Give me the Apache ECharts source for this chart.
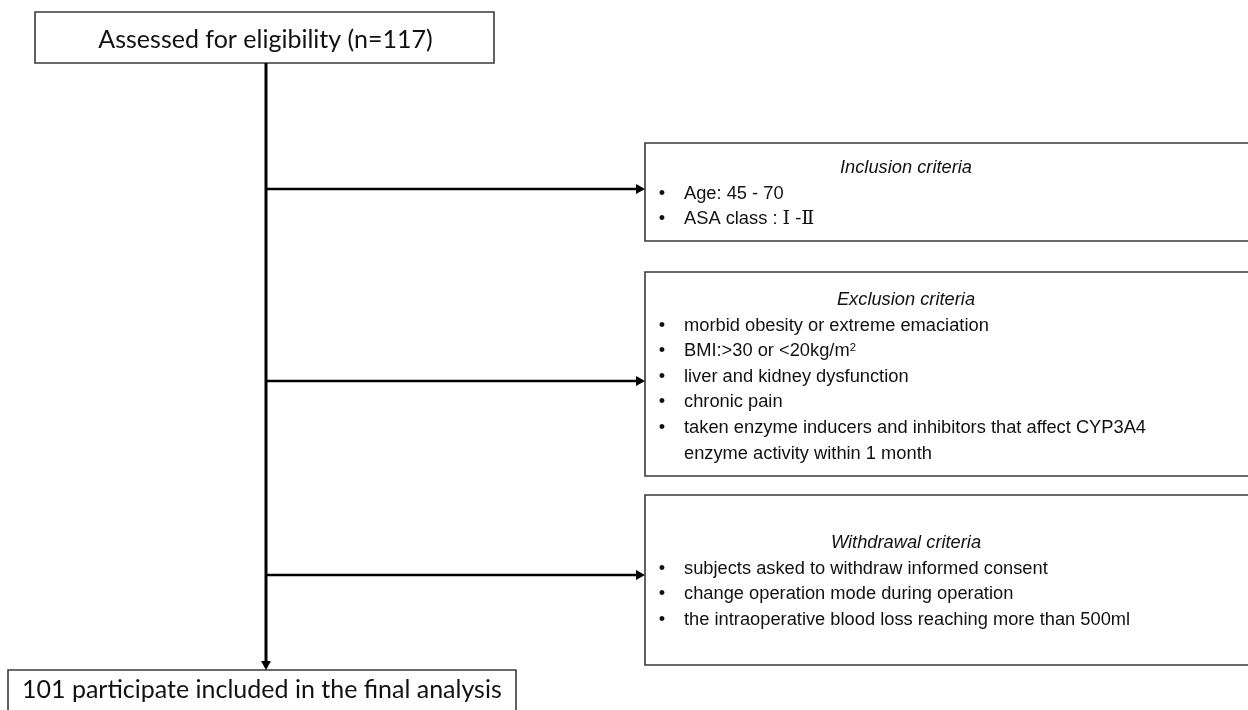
<!DOCTYPE html>
<html>
<head>
<meta charset="utf-8">
<script src="https://cdn.jsdelivr.net/npm/echarts@6/dist/echarts.min.js"></script>
<style>
html,body{margin:0;padding:0;background:#fff;}
#chart{width:1248px;height:710px;}
</style>
</head>
<body>
<div id="chart"></div>
<script>
// ---- content ----
const startLabel = 'Assessed for eligibility (n=117)';
const endLabel = '101 participate included in the final analysis';
const boxTitles = ['Inclusion criteria', 'Exclusion criteria', 'Withdrawal criteria'];
const inclusionItems = ['Age: 45 - 70', 'ASA class : {r|\u2160} -{r|\u2161}'];
const exclusionItems = [
  'morbid obesity or extreme emaciation',
  'BMI:>30 or <20kg/m{sup|2}',
  'liver and kidney dysfunction',
  'chronic pain',
  'taken enzyme inducers and inhibitors that affect CYP3A4\nenzyme activity within 1 month'
];
const withdrawalItems = [
  'subjects asked to withdraw informed consent',
  'change operation mode during operation',
  'the intraoperative blood loss reaching more than 500ml'
];

// ---- layout (diagram coordinates, px) ----
const startBox = [35, 12, 494, 63];
const endBox = [8, 670, 516, 720];
const sideBoxes = [[645, 143, 1262, 241], [645, 272, 1262, 476], [645, 495, 1262, 665]];
const sideTitleY = [168, 300, 543];
const trunkX = 266;
const branchY = [189, 381, 575];
const lineH = 25.6;
const bulletX = 662, itemX = 684, titleCX = 906;
const sideFont = 'Liberation Sans', sideSize = 18.3;
const mainFont = 'Lato', mainSize = 25;

const itemGroups = [inclusionItems, exclusionItems, withdrawalItems];

// rectangles
const rects = [startBox, endBox].concat(sideBoxes);
// text entries
const texts = [];
texts.push({x: (startBox[0] + startBox[2]) / 2 + 1, y: 40, text: startLabel, font: mainFont, size: mainSize, align: 'center', style: 'normal'});
texts.push({x: 22, y: 690, text: endLabel, font: mainFont, size: mainSize, align: 'left', style: 'normal'});
itemGroups.forEach((items, g) => {
  texts.push({x: titleCX, y: sideTitleY[g], text: boxTitles[g], font: sideFont, size: sideSize, align: 'center', style: 'italic'});
  let line = 1;
  items.forEach(it => {
    const parts = it.split('\n');
    texts.push({x: bulletX, y: sideTitleY[g] + line * lineH, text: '\u2022', font: sideFont, size: sideSize, align: 'center', style: 'normal'});
    parts.forEach(p => {
      texts.push({x: itemX, y: sideTitleY[g] + line * lineH, text: p, font: sideFont, size: sideSize, align: 'left', style: 'normal'});
      line++;
    });
  });
});

// connectors: [x0,y0,x1,y1,width]
const connectors = [[trunkX, startBox[3], trunkX, endBox[1], 3]];
branchY.forEach((y, i) => connectors.push([trunkX, y, sideBoxes[i][0], y, 2.5]));

const chart = echarts.init(document.getElementById('chart'), null, {renderer: 'canvas'});

function arrowHead(x1, y1, dx, dy, api) {
  const L = 9, W = 5;
  const tip = api.coord([x1, y1]);
  const base = [tip[0] - dx * L, tip[1] - dy * L];
  const px = -dy, py = dx;
  return {type: 'polygon', shape: {points: [tip, [base[0] + px * W, base[1] + py * W], [base[0] - px * W, base[1] - py * W]]}, style: {fill: '#000'}};
}

chart.setOption({
  animation: false,
  grid: {left: 0, right: 0, top: 0, bottom: 0},
  xAxis: {type: 'value', min: 0, max: 1248, show: false},
  yAxis: {type: 'value', min: 0, max: 710, inverse: true, show: false},
  series: [
    {
      type: 'custom', clip: false,
      data: rects.map(r => [r[0], r[1], r[2], r[3]]),
      renderItem: (params, api) => {
        const p0 = api.coord([api.value(0), api.value(1)]);
        const p1 = api.coord([api.value(2), api.value(3)]);
        return {type: 'rect', shape: {x: p0[0], y: p0[1], width: p1[0] - p0[0], height: p1[1] - p0[1]},
          style: {fill: '#fff', stroke: '#3a3a3a', lineWidth: 1.6}};
      }
    },
    {
      type: 'custom', clip: false,
      data: connectors.map(c => [c[0], c[1], c[2], c[3]]),
      renderItem: (params, api) => {
        const c = connectors[params.dataIndex];
        const x0 = api.value(0), y0 = api.value(1), x1 = api.value(2), y1 = api.value(3);
        const dx = Math.sign(x1 - x0), dy = Math.sign(y1 - y0);
        const p0 = api.coord([x0, y0]);
        const p1 = api.coord([x1 - dx * 6, y1 - dy * 6]);
        return {type: 'group', children: [
          {type: 'line', shape: {x1: p0[0], y1: p0[1], x2: p1[0], y2: p1[1]}, style: {stroke: '#000', lineWidth: c[4]}},
          arrowHead(x1, y1, dx, dy, api)
        ]};
      }
    },
    {
      type: 'custom', clip: false,
      data: texts.map(t => [t.x, t.y]),
      renderItem: (params, api) => {
        const t = texts[params.dataIndex];
        const p = api.coord([api.value(0), api.value(1)]);
        return {type: 'text', x: p[0], y: p[1],
          style: {
            text: t.text, fill: '#111',
            fontFamily: t.font, fontSize: t.size, fontStyle: t.style,
            align: t.align, verticalAlign: 'middle',
            rich: {
              r: {fontFamily: 'DejaVu Serif', fontSize: t.size * 1.05, fill: '#111'},
              sup: {fontFamily: t.font, fontSize: t.size * 0.62, fill: '#111', verticalAlign: 'top', padding: [0, 0, 7, 0]}
            }
          }};
      }
    }
  ]
});
</script>
</body>
</html>
